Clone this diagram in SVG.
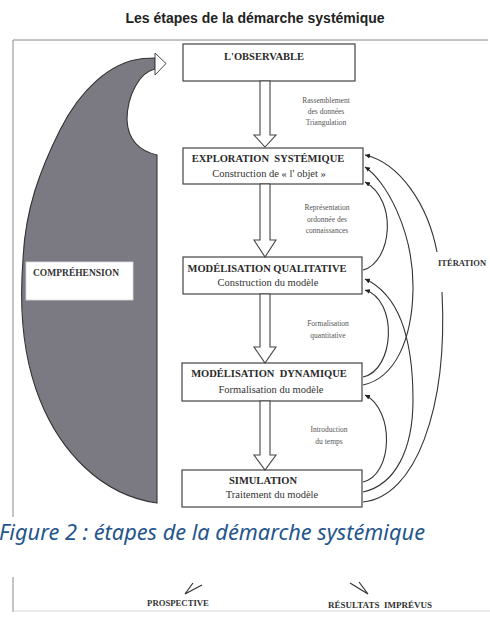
<svg xmlns="http://www.w3.org/2000/svg" width="490" height="621" viewBox="0 0 490 621">
<style>
.box{fill:#fff;stroke:#444;stroke-width:1.2}
.blk{fill:#fff;stroke:#444;stroke-width:1.1}
.hd{font-family:"Liberation Serif",serif;font-weight:bold;font-size:10.5px;fill:#2a2a2a;text-anchor:middle}
.sub{font-family:"Liberation Serif",serif;font-size:10.5px;fill:#333;text-anchor:middle}
.sm{font-family:"Liberation Serif",serif;font-size:7.5px;fill:#555;text-anchor:middle}
.lbl{font-family:"Liberation Serif",serif;font-weight:bold;fill:#333}
.cv{fill:none;stroke:#333;stroke-width:1.1}
.frame{fill:none;stroke:#8a8a8a;stroke-width:1}
</style>
<defs>
<marker id="ah" viewBox="0 0 6 6" refX="6" refY="3" markerWidth="5" markerHeight="5" orient="auto" markerUnits="userSpaceOnUse">
<path d="M0,0 L6,3 L0,6 z" fill="#222"/>
</marker>
</defs>
<rect width="490" height="621" fill="#fff"/>
<text x="255" y="23" font-family="Liberation Sans,Arial,sans-serif" font-weight="bold" font-size="14" fill="#222" text-anchor="middle">Les étapes de la démarche systémique</text>
<g id="frame">
<path class="frame" d="M13,517 L13,40 L488,40"/>
<path class="frame" d="M13,577 L13,612" stroke-width="1.5"/>
<path d="M13,611 L490,611" stroke="#d6d6d6" stroke-width="1"/>
</g>
<g id="comprehension">
<path d="M155,58 L143,58.5 C110,62 80,90 60,130 C40,170 25,210 23,260 C19,310 24,360 40,400 C60,450 100,495 157,503 L157,155 C140,151 128,140 127,120 C127,95 140,72 155,69 Z" fill="#7b7a82" stroke="#333" stroke-width="1.1"/>
<polygon points="155,53 166,63.5 155,75" fill="#fff" stroke="#444" stroke-width="1"/>
<rect x="26" y="262" width="107" height="38" fill="#fff" stroke="#ddd" stroke-width="0.8"/>
<text class="lbl" x="33" y="276" font-size="9.5">COMPRÉHENSION</text>
</g>
<g id="observable">
<rect class="box" x="183" y="44" width="172" height="37"/>
<text class="hd" x="264" y="60">L'OBSERVABLE</text>
</g>
<g id="exploration">
<rect class="box" x="183" y="148" width="180" height="36"/>
<text class="hd" x="268" y="162" xml:space="preserve">EXPLORATION  SYSTÉMIQUE</text>
<text class="sub" x="269" y="177">Construction de « l' objet »</text>
</g>
<g id="qualitative">
<rect class="box" x="183" y="257" width="179" height="37"/>
<text class="hd" x="267" y="272">MODÉLISATION QUALITATIVE</text>
<text class="sub" x="268" y="286">Construction du modèle</text>
</g>
<g id="dynamique">
<rect class="box" x="182" y="363" width="180" height="38"/>
<text class="hd" x="269" y="377" xml:space="preserve">MODÉLISATION  DYNAMIQUE</text>
<text class="sub" x="271" y="393">Formalisation du modèle</text>
</g>
<g id="simulation">
<rect class="box" x="182" y="470" width="180" height="37"/>
<text class="hd" x="263" y="484">SIMULATION</text>
<text class="sub" x="272" y="498">Traitement du modèle</text>
</g>
<g id="connectors">
<polygon class="blk" points="260,81 270,81 270,135 276,135 265,147 254,135 260,135"/>
<polygon class="blk" points="260,184 270,184 270,240 276,240 265,257 254,240 260,240"/>
<polygon class="blk" points="260,294 270,294 270,347 276,347 265,363 254,347 260,347"/>
<polygon class="blk" points="260,401 270,401 270,455 276,455 265,470 254,455 260,455"/>
<path class="cv" d="M363,270 C392,262 398,200 365,182" marker-end="url(#ah)"/>
<path class="cv" d="M363,377 C395,370 398,300 365,290" marker-end="url(#ah)"/>
<path class="cv" d="M363,385 C395,378 412,340 413,290 C414,230 385,180 365,167" marker-end="url(#ah)"/>
<path class="cv" d="M363,492 C395,485 413,450 413,400 C413,340 400,295 365,279" marker-end="url(#ah)"/>
<path class="cv" d="M363,482 C393,475 395,410 365,395" marker-end="url(#ah)"/>
<path class="cv" d="M363,502 C415,497 448,410 442,292"/>
<path class="cv" d="M437,252 C428,205 400,163 365,155" marker-end="url(#ah)"/>
<path d="M193,583 L185,594 L202,585" fill="none" stroke="#333" stroke-width="1.2"/>
<path d="M350,583 L368,594 L359,582" fill="none" stroke="#333" stroke-width="1.2"/>
</g>
<g id="labels">
<text class="sm"><tspan x="326" y="103">Rassemblement</tspan><tspan x="326" y="114">des données</tspan><tspan x="326" y="125">Triangulation</tspan></text>
<text class="sm"><tspan x="327" y="210">Représentation</tspan><tspan x="327" y="222">ordonnée des</tspan><tspan x="327" y="233">connaissances</tspan></text>
<text class="sm"><tspan x="328" y="326">Formalisation</tspan><tspan x="328" y="338">quantitative</tspan></text>
<text class="sm"><tspan x="329" y="432">Introduction</tspan><tspan x="329" y="444">du temps</tspan></text>
<text class="lbl" x="438" y="266" font-size="8.5">ITÉRATION</text>
<text class="lbl" x="178" y="606" font-size="8.7" text-anchor="middle">PROSPECTIVE</text>
<text class="lbl" x="380" y="608" font-size="9" text-anchor="middle" xml:space="preserve">RÉSULTATS  IMPRÉVUS</text>
</g>
<text x="-1" y="540" font-family="Noto Sans,Open Sans,sans-serif" font-style="italic" font-size="21.5" fill="#24558c" textLength="426" lengthAdjust="spacingAndGlyphs">Figure 2 : étapes de la démarche systémique</text>
</svg>
